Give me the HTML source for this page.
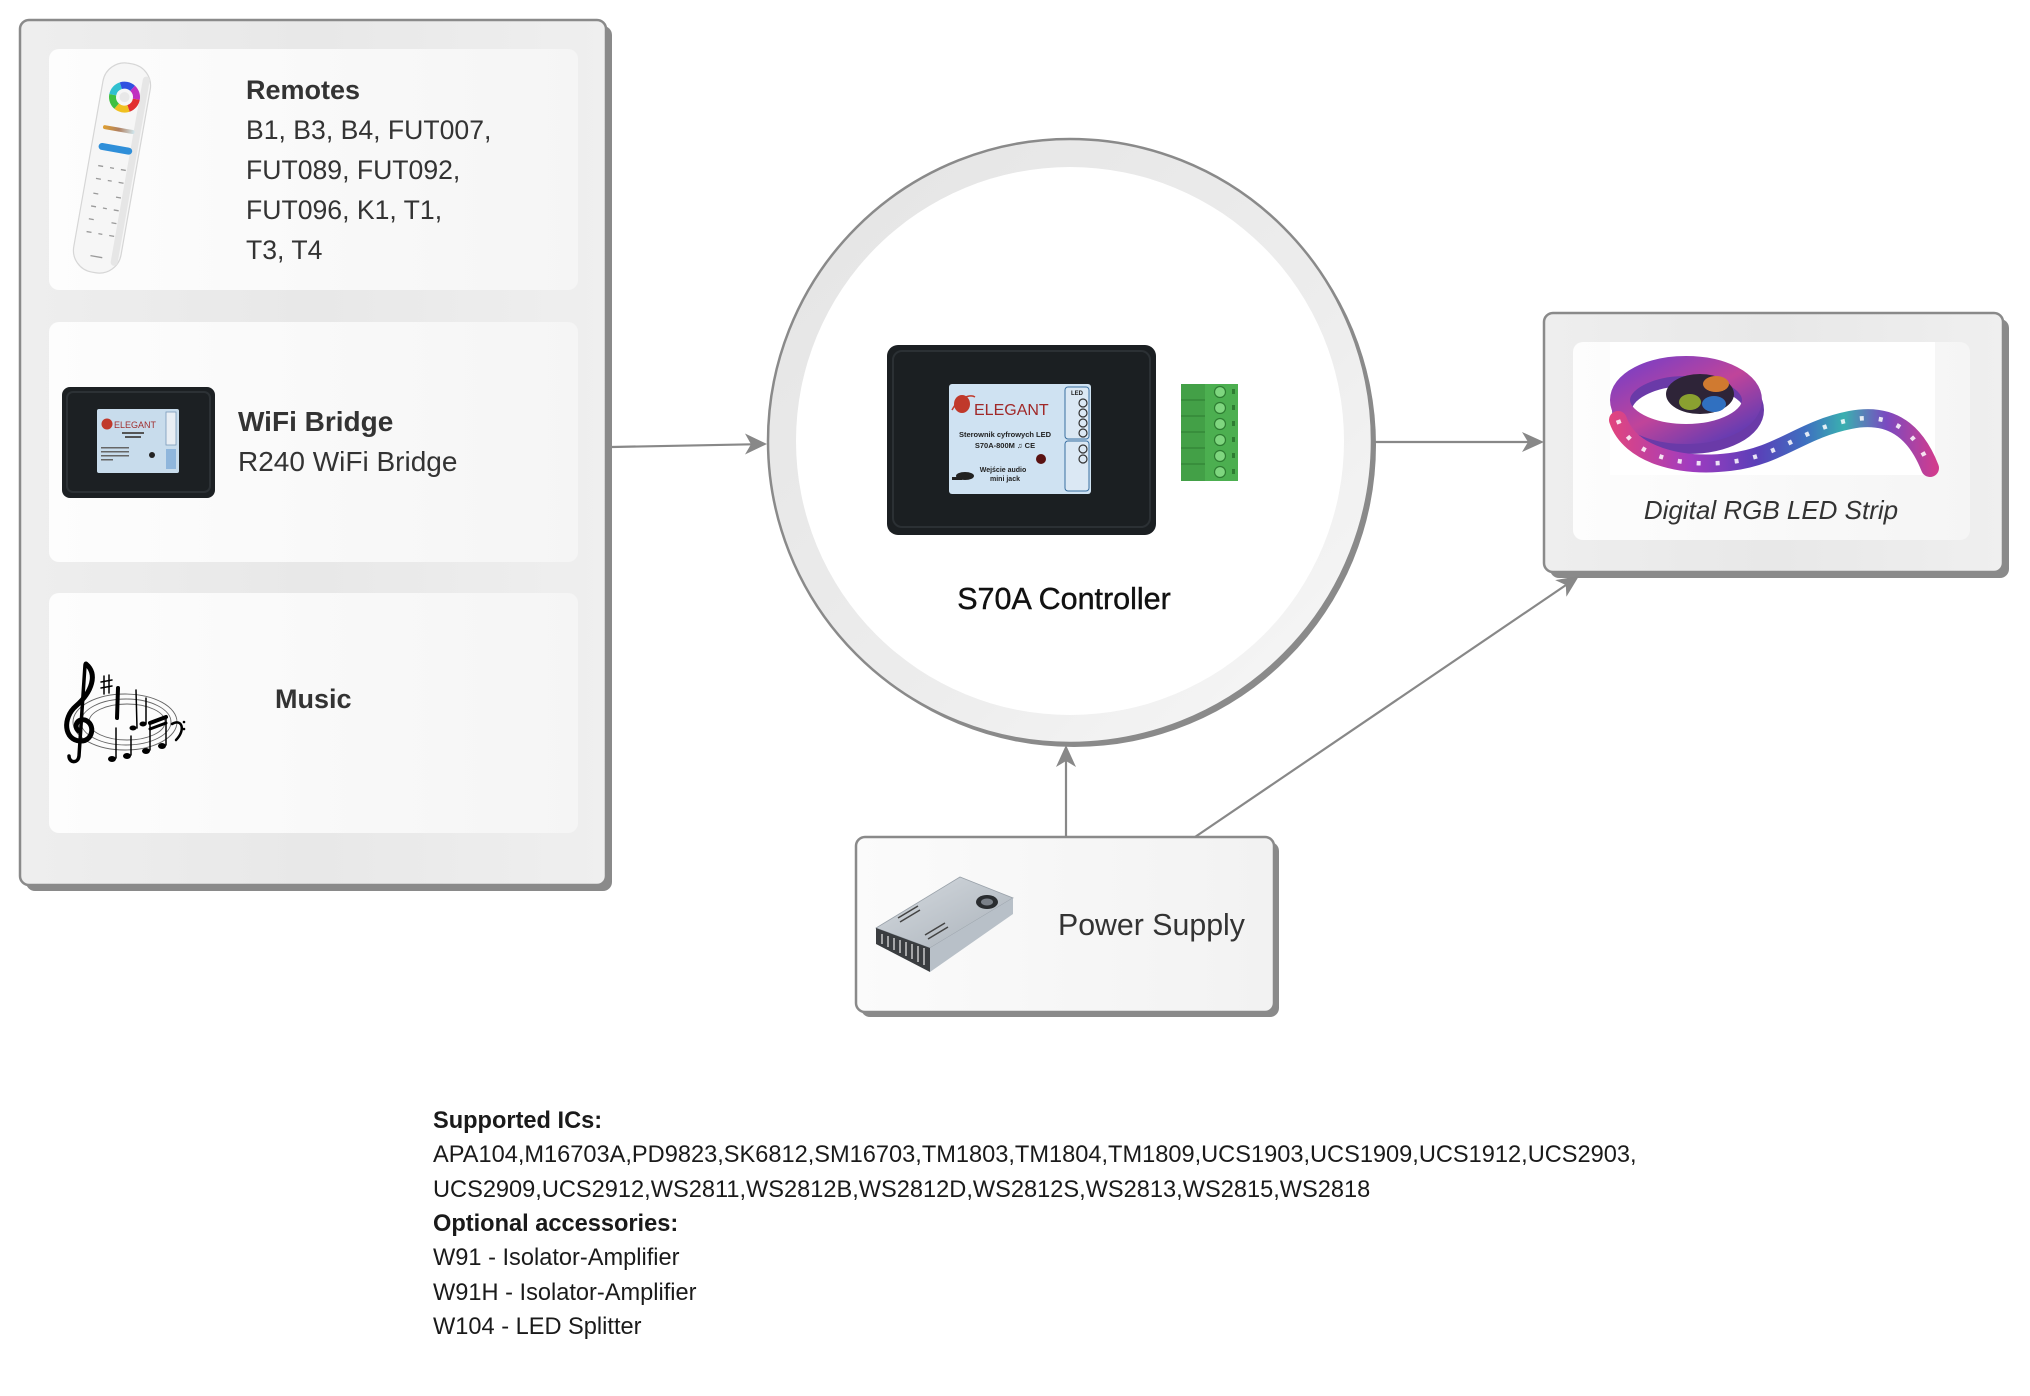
<!DOCTYPE html>
<html><head><meta charset="utf-8">
<style>
html,body{margin:0;padding:0;background:#fff;}
svg{display:block;}
text{font-family:"Liberation Sans",Arial,sans-serif;}
</style></head><body>
<svg width="2030" height="1396" viewBox="0 0 2030 1396" xmlns="http://www.w3.org/2000/svg">
<defs>
  <linearGradient id="outerBg" x1="0" y1="0" x2="1" y2="0">
    <stop offset="0" stop-color="#eeeeee"/><stop offset="0.5" stop-color="#e8e8e8"/><stop offset="1" stop-color="#efefef"/>
  </linearGradient>
  <linearGradient id="cardBg" x1="0" y1="0" x2="1" y2="0">
    <stop offset="0" stop-color="#fdfdfd"/><stop offset="1" stop-color="#f5f5f5"/>
  </linearGradient>
  <linearGradient id="psuBg" x1="0" y1="0" x2="1" y2="0">
    <stop offset="0" stop-color="#fbfbfb"/><stop offset="1" stop-color="#f2f2f2"/>
  </linearGradient>
  <linearGradient id="ring" x1="0" y1="0" x2="1" y2="1">
    <stop offset="0" stop-color="#e4e4e4"/><stop offset="0.6" stop-color="#ededed"/><stop offset="1" stop-color="#f8f8f8"/>
  </linearGradient>
  <linearGradient id="stripG" gradientUnits="userSpaceOnUse" x1="1610" y1="0" x2="1935" y2="0">
    <stop offset="0" stop-color="#e2457e"/><stop offset="0.25" stop-color="#a03cc0"/><stop offset="0.45" stop-color="#5b3fb8"/>
    <stop offset="0.6" stop-color="#3e6fc0"/><stop offset="0.72" stop-color="#3ab0b0"/><stop offset="0.85" stop-color="#7a4ac0"/><stop offset="1" stop-color="#d03c8e"/>
  </linearGradient>
  <linearGradient id="reelG" x1="0" y1="0" x2="1" y2="1">
    <stop offset="0" stop-color="#7b3fc4"/><stop offset="0.5" stop-color="#c0449a"/><stop offset="1" stop-color="#5a3bb5"/>
  </linearGradient>
  <linearGradient id="barG" x1="0" y1="0" x2="1" y2="0">
    <stop offset="0" stop-color="#e0a030"/><stop offset="0.5" stop-color="#b08060"/><stop offset="1" stop-color="#d0e8f0"/>
  </linearGradient>
  <linearGradient id="psuTop" x1="0" y1="0" x2="1" y2="1">
    <stop offset="0" stop-color="#d6dbe0"/><stop offset="1" stop-color="#aab2ba"/>
  </linearGradient>
</defs>

<!-- LEFT GROUP BOX -->
<rect x="26" y="26" width="586" height="865" rx="9" fill="#8a8a8a"/>
<rect x="20" y="20" width="586" height="865" rx="9" fill="url(#outerBg)" stroke="#8a8a8a" stroke-width="2.5"/>
<rect x="49" y="49" width="529" height="241" rx="10" fill="url(#cardBg)"/>
<rect x="49" y="322" width="529" height="240" rx="10" fill="url(#cardBg)"/>
<rect x="49" y="593" width="529" height="240" rx="10" fill="url(#cardBg)"/>

<!-- Remote image -->
<g transform="translate(112,168) rotate(10)">
  <rect x="-24" y="-106" width="48" height="212" rx="22" fill="#f6f6f6" stroke="#d6d6d6" stroke-width="1.2"/>
  <rect x="15" y="-96" width="7" height="192" rx="3.5" fill="#e6e6e6"/>
  <g fill="none" stroke-width="7">
    <circle cx="0" cy="-72" r="12" stroke="#e23030" stroke-dasharray="12.6 75.4" stroke-dashoffset="0"/>
    <circle cx="0" cy="-72" r="12" stroke="#f0c020" stroke-dasharray="12.6 75.4" stroke-dashoffset="-12.6"/>
    <circle cx="0" cy="-72" r="12" stroke="#40c040" stroke-dasharray="12.6 75.4" stroke-dashoffset="-25.2"/>
    <circle cx="0" cy="-72" r="12" stroke="#30c0d0" stroke-dasharray="12.6 75.4" stroke-dashoffset="-37.8"/>
    <circle cx="0" cy="-72" r="12" stroke="#3050e0" stroke-dasharray="12.6 75.4" stroke-dashoffset="-50.4"/>
    <circle cx="0" cy="-72" r="12" stroke="#c030c0" stroke-dasharray="12.6 75.4" stroke-dashoffset="-63"/>
  </g>
  <circle cx="0" cy="-72" r="5" fill="#e8e8e8"/>
  <rect x="-16" y="-41" width="32" height="4" rx="2" fill="url(#barG)"/>
  <rect x="-17" y="-23" width="34" height="7" rx="3.5" fill="#2f8fd9"/>
  <g stroke="#9a9a9a" stroke-width="1.3">
    <line x1="-14" y1="0" x2="-9" y2="0"/><line x1="-2" y1="0" x2="2" y2="0"/><line x1="9" y1="0" x2="14" y2="0"/>
    <line x1="-14" y1="13" x2="-9" y2="13"/><line x1="-2" y1="13" x2="2" y2="13"/><line x1="9" y1="13" x2="14" y2="13"/>
    <line x1="-14" y1="28" x2="-9" y2="28"/><line x1="9" y1="28" x2="14" y2="28"/>
    <line x1="-14" y1="41" x2="-9" y2="41"/><line x1="-2" y1="41" x2="2" y2="41"/><line x1="9" y1="41" x2="14" y2="41"/>
    <line x1="-14" y1="54" x2="-9" y2="54"/><line x1="9" y1="54" x2="14" y2="54"/>
    <line x1="-14" y1="67" x2="-9" y2="67"/><line x1="-2" y1="67" x2="2" y2="67"/><line x1="9" y1="67" x2="14" y2="67"/>
    <line x1="-6" y1="90" x2="6" y2="90"/>
  </g>
</g>

<text x="246" y="99" font-size="27" font-weight="bold" fill="#333">Remotes</text>
<text x="246" y="139" font-size="26.6" fill="#333">B1, B3, B4, FUT007,</text>
<text x="246" y="179" font-size="26.6" fill="#333">FUT089, FUT092,</text>
<text x="246" y="219" font-size="26.6" fill="#333">FUT096, K1, T1,</text>
<text x="246" y="259" font-size="26.6" fill="#333">T3, T4</text>

<!-- WiFi bridge image -->
<rect x="62" y="387" width="153" height="111" rx="8" fill="#1c2023"/>
<rect x="67" y="392" width="143" height="100" rx="6" fill="none" stroke="#2c3135" stroke-width="2"/>
<rect x="97" y="409" width="82" height="64" rx="2" fill="#c8dcec"/>
<circle cx="107" cy="424" r="5.5" fill="#c0392b"/>
<text x="114" y="428" font-family="Liberation Serif, serif" font-size="9" fill="#a03030">ELEGANT</text>
<rect x="122" y="432" width="22" height="2" fill="#555"/>
<rect x="125" y="436" width="16" height="2" fill="#555"/>
<rect x="101" y="447" width="28" height="1.5" fill="#666"/>
<rect x="101" y="451" width="28" height="1.5" fill="#666"/>
<rect x="101" y="455" width="28" height="1.5" fill="#666"/>
<rect x="101" y="459" width="12" height="1.5" fill="#666"/>
<circle cx="152" cy="455" r="3" fill="#222"/>
<rect x="166" y="412" width="10" height="33" fill="#e8eef4" stroke="#7a9ab8" stroke-width="0.8"/>
<rect x="166" y="449" width="10" height="20" fill="#8fb6dc"/>

<text x="238" y="431" font-size="28" font-weight="bold" fill="#333">WiFi Bridge</text>
<text x="238" y="471" font-size="28" fill="#333">R240 WiFi Bridge</text>

<!-- Music image -->
<g fill="none" stroke="#666" stroke-width="0.9">
  <ellipse cx="125" cy="722" rx="52" ry="28"/>
  <ellipse cx="126" cy="722" rx="45" ry="23"/>
  <ellipse cx="127" cy="722" rx="38" ry="18"/>
</g>
<g stroke="#000" fill="none" stroke-linecap="round">
  <path d="M86,664 C98,674 92,692 76,706 C62,718 64,740 80,741 C93,742 96,724 85,720 C77,718 73,727 79,731" stroke-width="5"/>
  <path d="M85,665 L79,756 C78,764 69,763 69,756" stroke-width="3.5"/>
  <line x1="118" y1="688" x2="117" y2="718" stroke-width="4"/>
  <line x1="104" y1="676" x2="104" y2="694" stroke-width="1.5"/>
  <line x1="109" y1="675" x2="109" y2="693" stroke-width="1.5"/>
  <line x1="101" y1="682" x2="112" y2="680" stroke-width="1.5"/>
  <line x1="101" y1="688" x2="112" y2="686" stroke-width="1.5"/>
  <line x1="136" y1="690" x2="137" y2="728" stroke-width="1.5"/>
  <line x1="146" y1="698" x2="146" y2="724" stroke-width="1.5"/>
  <line x1="116" y1="728" x2="116" y2="758" stroke-width="1.5"/>
  <line x1="131" y1="736" x2="131" y2="755" stroke-width="1.5"/>
  <line x1="150" y1="722" x2="150" y2="750" stroke-width="1.5"/>
  <line x1="166" y1="716" x2="166" y2="745" stroke-width="1.5"/>
  <line x1="150" y1="723" x2="166" y2="717" stroke-width="4"/>
  <line x1="150" y1="729" x2="166" y2="723" stroke-width="3"/>
  <path d="M172,724 C182,718 186,730 176,740" stroke-width="2.5"/>
</g>
<g fill="#000">
  <ellipse cx="112" cy="759" rx="4" ry="3"/>
  <ellipse cx="127" cy="756" rx="4" ry="3"/>
  <ellipse cx="146" cy="751" rx="4" ry="3"/>
  <ellipse cx="162" cy="746" rx="4" ry="3"/>
  <ellipse cx="133" cy="728" rx="3.5" ry="2.5"/>
  <ellipse cx="143" cy="724" rx="3.5" ry="2.5"/>
  <circle cx="184" cy="722" r="1.3"/><circle cx="184" cy="729" r="1.3"/>
</g>

<text x="275" y="708" font-size="27" font-weight="bold" fill="#333">Music</text>

<!-- CENTRAL CIRCLE -->
<circle cx="1074" cy="445" r="302" fill="#8a8a8a"/>
<circle cx="1070" cy="441" r="302" fill="url(#ring)" stroke="#8a8a8a" stroke-width="2.5"/>
<circle cx="1070" cy="441" r="274" fill="#ffffff"/>

<!-- Controller image -->
<rect x="887" y="345" width="269" height="190" rx="11" fill="#1b1f22"/>
<rect x="893" y="351" width="257" height="176" rx="9" fill="none" stroke="#2b3034" stroke-width="2"/>
<rect x="949" y="384" width="142" height="110" rx="3" fill="#cfe2f2"/>
<ellipse cx="962" cy="404" rx="8" ry="9" fill="#c0392b"/>
<path d="M952,410 C958,398 970,394 975,397" stroke="#c0392b" stroke-width="1.5" fill="none"/>
<text x="974" y="415" font-family="Liberation Serif, serif" font-size="16" fill="#a02828">ELEGANT</text>
<text x="1005" y="437" font-size="7.5" font-weight="bold" fill="#222" text-anchor="middle">Sterownik cyfrowych LED</text>
<text x="1005" y="448" font-size="7.5" font-weight="bold" fill="#222" text-anchor="middle">S70A-800M ♫ CE</text>
<circle cx="1041" cy="459" r="5" fill="#5a1212"/>
<ellipse cx="965" cy="476" rx="9" ry="4" fill="#222"/>
<rect x="952" y="477" width="10" height="3" fill="#222"/>
<text x="1003" y="472" font-size="7" font-weight="bold" fill="#222" text-anchor="middle">Wejście audio</text>
<text x="1005" y="481" font-size="7" font-weight="bold" fill="#222" text-anchor="middle">mini jack</text>
<rect x="1065" y="387" width="24" height="52" rx="3" fill="#dbe8f4" stroke="#3a6fa0" stroke-width="1"/>
<rect x="1065" y="441" width="24" height="50" rx="3" fill="#dbe8f4" stroke="#3a6fa0" stroke-width="1"/>
<text x="1077" y="395" font-size="6" font-weight="bold" fill="#222" text-anchor="middle">LED</text>
<g fill="none" stroke="#333" stroke-width="1.2">
  <circle cx="1083" cy="403" r="4"/><circle cx="1083" cy="413" r="4"/><circle cx="1083" cy="423" r="4"/><circle cx="1083" cy="433" r="4"/>
  <circle cx="1083" cy="449" r="4"/><circle cx="1083" cy="459" r="4"/>
</g>
<!-- green terminal -->
<rect x="1181" y="384" width="57" height="97" fill="#4caf50"/>
<rect x="1181" y="384" width="24" height="97" fill="#43a047"/>
<g stroke="#2e7d32" stroke-width="1">
  <line x1="1181" y1="400" x2="1205" y2="400"/><line x1="1181" y1="416" x2="1205" y2="416"/>
  <line x1="1181" y1="432" x2="1205" y2="432"/><line x1="1181" y1="448" x2="1205" y2="448"/>
  <line x1="1181" y1="464" x2="1205" y2="464"/>
</g>
<g fill="#7fd67f" stroke="#2e7d32" stroke-width="1.2">
  <circle cx="1220" cy="392" r="5.5"/><circle cx="1220" cy="408" r="5.5"/><circle cx="1220" cy="424" r="5.5"/>
  <circle cx="1220" cy="440" r="5.5"/><circle cx="1220" cy="456" r="5.5"/><circle cx="1220" cy="472" r="5.5"/>
</g>
<g fill="#2e7d32">
  <rect x="1232" y="389" width="3" height="5"/><rect x="1232" y="405" width="3" height="5"/><rect x="1232" y="421" width="3" height="5"/>
  <rect x="1232" y="437" width="3" height="5"/><rect x="1232" y="453" width="3" height="5"/><rect x="1232" y="469" width="3" height="5"/>
</g>

<text x="1064" y="609" font-size="30.5" fill="#111" stroke="#111" stroke-width="0.4" text-anchor="middle">S70A Controller</text>

<!-- RIGHT BOX -->
<rect x="1550" y="319" width="459" height="259" rx="9" fill="#8a8a8a"/>
<rect x="1544" y="313" width="459" height="259" rx="9" fill="url(#outerBg)" stroke="#8a8a8a" stroke-width="2.5"/>
<rect x="1573" y="342" width="397" height="198" rx="10" fill="url(#cardBg)"/>
<rect x="1610" y="342" width="325" height="133" fill="#ffffff"/>
<!-- LED strip -->
<ellipse cx="1688" cy="410" rx="66" ry="34" fill="none" stroke="#6a3aa8" stroke-width="20"/>
<ellipse cx="1686" cy="400" rx="66" ry="34" fill="none" stroke="url(#reelG)" stroke-width="20"/>
<ellipse cx="1700" cy="394" rx="34" ry="20" fill="#2e2438"/>
<ellipse cx="1716" cy="384" rx="13" ry="8" fill="#d07a30"/>
<ellipse cx="1690" cy="402" rx="11" ry="8" fill="#8aa030"/>
<ellipse cx="1714" cy="404" rx="12" ry="8" fill="#3070c0"/>
<path d="M1618,420 C1630,455 1680,468 1730,462 C1780,456 1800,430 1850,420 C1890,412 1915,430 1930,468" fill="none" stroke="url(#stripG)" stroke-width="18" stroke-linecap="round"/>
<path d="M1618,420 C1630,455 1680,468 1730,462 C1780,456 1800,430 1850,420 C1890,412 1915,430 1930,468" fill="none" stroke="#ffffff" stroke-width="4.5" stroke-dasharray="4 15" opacity="0.85"/>
<text x="1771" y="519" font-size="26" font-style="italic" fill="#333" text-anchor="middle">Digital RGB LED Strip</text>

<!-- POWER SUPPLY BOX -->
<rect x="861" y="842" width="418" height="175" rx="9" fill="#8a8a8a"/>
<rect x="856" y="837" width="418" height="175" rx="9" fill="url(#psuBg)" stroke="#8a8a8a" stroke-width="2.5"/>
<polygon points="876,928 960,877 1013,898 930,948" fill="url(#psuTop)" stroke="#9aa2aa" stroke-width="0.8"/>
<polygon points="876,928 930,948 930,972 876,944" fill="#3a3d40"/>
<polygon points="930,948 1013,898 1013,914 930,972" fill="#b8c0c8"/>
<g stroke="#c8c8c8" stroke-width="1.5">
  <line x1="882" y1="934" x2="882" y2="944"/><line x1="888" y1="936" x2="888" y2="947"/><line x1="894" y1="938" x2="894" y2="950"/>
  <line x1="900" y1="940" x2="900" y2="953"/><line x1="906" y1="942" x2="906" y2="956"/><line x1="912" y1="944" x2="912" y2="959"/>
  <line x1="918" y1="946" x2="918" y2="962"/><line x1="924" y1="948" x2="924" y2="965"/>
</g>
<ellipse cx="987" cy="902" rx="11" ry="7" fill="#2a2d30"/>
<ellipse cx="987" cy="902" rx="6" ry="3.5" fill="#7a8088"/>
<g stroke="#444" stroke-width="1.5">
  <line x1="898" y1="918" x2="918" y2="906"/><line x1="900" y1="922" x2="920" y2="910"/>
  <line x1="925" y1="935" x2="945" y2="923"/><line x1="928" y1="939" x2="948" y2="927"/>
</g>
<text x="1058" y="935" font-size="30.3" fill="#333">Power Supply</text>

<!-- CONNECTORS -->
<g stroke="#888" stroke-width="2.2" fill="none">
  <line x1="612" y1="447" x2="752" y2="444.3"/>
  <line x1="1374" y1="442" x2="1529" y2="442"/>
  <line x1="1066" y1="837" x2="1066" y2="760"/>
  <line x1="1195" y1="837" x2="1566" y2="585"/>
</g>
<g fill="#888">
  <polygon points="767,444 745,433.5 751,444.2 745,454.5"/>
  <polygon points="1544,442 1522,432 1528,442 1522,452"/>
  <polygon points="1066,745 1056,767 1066,761 1076,767"/>
  <polygon points="1579,576 1555.2,580.1 1565.8,585 1566.4,596.7"/>
</g>

<!-- BOTTOM TEXT -->
<g font-size="23.6" fill="#1a1a1a">
  <text x="433" y="1128" font-weight="bold">Supported ICs:</text>
  <text x="433" y="1162">APA104,M16703A,PD9823,SK6812,SM16703,TM1803,TM1804,TM1809,UCS1903,UCS1909,UCS1912,UCS2903,</text>
  <text x="433" y="1197">UCS2909,UCS2912,WS2811,WS2812B,WS2812D,WS2812S,WS2813,WS2815,WS2818</text>
  <text x="433" y="1231" font-weight="bold">Optional accessories:</text>
  <text x="433" y="1265">W91 - Isolator-Amplifier</text>
  <text x="433" y="1300">W91H - Isolator-Amplifier</text>
  <text x="433" y="1334">W104 - LED Splitter</text>
</g>
</svg>
</body></html>
